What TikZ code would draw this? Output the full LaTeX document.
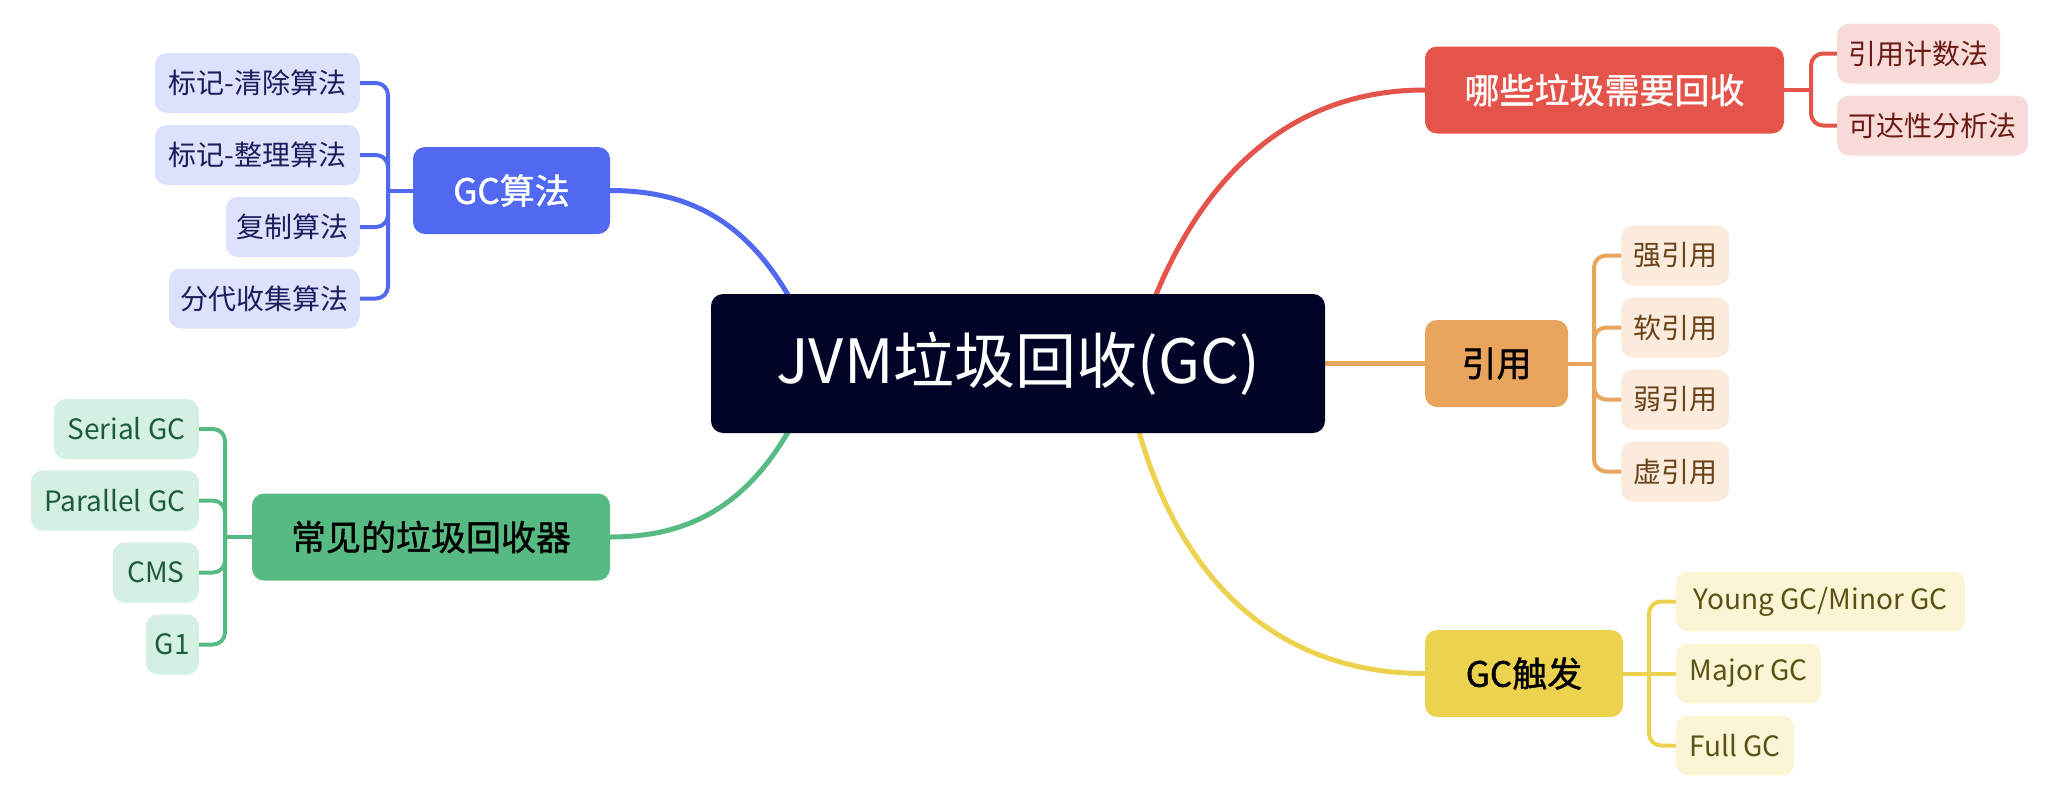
\documentclass[tikz,border=0pt]{standalone}
\usepackage{fontspec}
\setmainfont{Noto Sans CJK SC}
\newfontfamily\medfont[FakeBold=1.2]{Noto Sans CJK SC}
\usetikzlibrary{backgrounds}
\definecolor{rootc}{HTML}{020427}
\definecolor{cblue}{HTML}{5169F1}
\definecolor{cblueL}{HTML}{DDE1FB}
\definecolor{cblueT}{HTML}{1A1E5C}
\definecolor{cred}{HTML}{E5544A}
\definecolor{credL}{HTML}{F8DAD8}
\definecolor{credT}{HTML}{6A1B15}
\definecolor{corange}{HTML}{E9A45D}
\definecolor{corangeL}{HTML}{FAEBDC}
\definecolor{corangeT}{HTML}{6B4219}
\definecolor{cyellow}{HTML}{EDD24F}
\definecolor{cyellowL}{HTML}{FBF5D6}
\definecolor{cyellowT}{HTML}{5C5114}
\definecolor{cgreen}{HTML}{57BA83}
\definecolor{cgreenL}{HTML}{D4F0E3}
\definecolor{cgreenT}{HTML}{1F5B3B}
\tikzset{
  base/.style={rounded corners=12pt, inner sep=0pt, align=center},
  leaf/.style={base, minimum height=60pt, font=\fontsize{28}{32}\selectfont},
  branch/.style={base, minimum height=87pt, font=\fontsize{35}{40}\selectfont\medfont},
  mainline/.style={line width=5pt},
  subline/.style={line width=4pt},
}
\begin{document}
\begin{tikzpicture}[x=1pt,y=-1pt]
\useasboundingbox (0,0) rectangle (2048,798);
% root
\node[base, fill=rootc, text=white, minimum width=614pt, minimum height=139pt,
      font=\fontsize{61}{66}\selectfont] (root) at (1018,363.5) {JVM垃圾回收(GC)};
% branches
\node[branch, fill=cblue, text=white, minimum width=197pt] (b1) at (511.5,190.5) {GC算法};
\node[branch, fill=cred, text=white, minimum width=359pt] (b2) at (1604.5,90) {哪些垃圾需要回收};
\node[branch, fill=corange, text=black, minimum width=143pt] (b3) at (1496.5,363.5) {引用};
\node[branch, fill=cyellow, text=black, minimum width=198pt] (b4) at (1524,673.5) {GC触发};
\node[branch, fill=cgreen, text=black, minimum width=358pt] (b5) at (431,537) {常见的垃圾回收器};
% blue leaves
\begin{scope}[every node/.style={leaf, fill=cblueL, text=cblueT, anchor=east}]
\node[minimum width=205pt] (a1) at (360,83) {标记-清除算法};
\node[minimum width=205pt] (a2) at (360,155) {标记-整理算法};
\node[minimum width=134pt] (a3) at (360,227) {复制算法};
\node[minimum width=191pt] (a4) at (360,298.5) {分代收集算法};
\end{scope}
% green leaves
\begin{scope}[every node/.style={leaf, fill=cgreenL, text=cgreenT, anchor=east}]
\node[minimum width=145pt] (g1) at (199,429) {Serial GC};
\node[minimum width=168pt] (g2) at (199,500.5) {Parallel GC};
\node[minimum width=86pt] (g3) at (199,572.5) {CMS};
\node[minimum width=53pt] (g4) at (199,644.5) {G1};
\end{scope}
% red leaves
\begin{scope}[every node/.style={leaf, fill=credL, text=credT, anchor=west}]
\node[minimum width=163pt] (r1) at (1837,53.5) {引用计数法};
\node[minimum width=191pt] (r2) at (1837,125.5) {可达性分析法};
\end{scope}
% orange leaves
\begin{scope}[every node/.style={leaf, fill=corangeL, text=corangeT, anchor=west, minimum width=108pt}]
\node (o1) at (1621,255.5) {强引用};
\node (o2) at (1621,327.5) {软引用};
\node (o3) at (1621,399.5) {弱引用};
\node (o4) at (1621,471.5) {虚引用};
\end{scope}
% yellow leaves
\begin{scope}[every node/.style={leaf, fill=cyellowL, text=cyellowT, anchor=west}]
\node[minimum width=289pt] (y1) at (1676,601.5) {Young GC/Minor GC};
\node[minimum width=145pt] (y2) at (1676,673.5) {Major GC};
\node[minimum width=118pt] (y3) at (1676,745.5) {Full GC};
\end{scope}
% junctions
\coordinate (ja) at (388,190.5);
\coordinate (jg) at (225,537);
\coordinate (jr) at (1811,90);
\coordinate (jo) at (1594,363.5);
\coordinate (jy) at (1649,673.5);
\begin{pgfonlayer}{background}
% main curves
\draw[mainline, cblue] ([xshift=-198pt]root.center) .. controls (770,230) and (700,190.5) .. (b1.east);
\draw[mainline, cgreen] ([xshift=-198pt]root.center) .. controls (770,497) and (700,537) .. (b5.east);
\draw[mainline, cred] ([xshift=114pt]root.center) .. controls (1182,190) and (1280,90) .. (b2.west);
\draw[mainline, corange] (root.east) -- (b3.west);
\draw[mainline, cyellow] ([xshift=106pt]root.center) .. controls (1156,560) and (1262,673.5) .. (b4.west);
% sub connectors
\draw[subline, cblue] (b1.west) -- (ja);
\foreach \n in {a1,a2,a3,a4} \draw[subline, cblue, rounded corners=12pt] (ja) |- (\n.east);
\draw[subline, cgreen] (b5.west) -- (jg);
\foreach \n in {g1,g2,g3,g4} \draw[subline, cgreen, rounded corners=12pt] (jg) |- (\n.east);
\draw[subline, cred] (b2.east) -- (jr);
\foreach \n in {r1,r2} \draw[subline, cred, rounded corners=12pt] (jr) |- (\n.west);
\draw[subline, corange] (b3.east) -- (jo);
\foreach \n in {o1,o2,o3,o4} \draw[subline, corange, rounded corners=12pt] (jo) |- (\n.west);
\draw[subline, cyellow] (b4.east) -- (y2.west);
\foreach \n in {y1,y3} \draw[subline, cyellow, rounded corners=12pt] (jy) |- (\n.west);
\end{pgfonlayer}
\end{tikzpicture}
\end{document}
